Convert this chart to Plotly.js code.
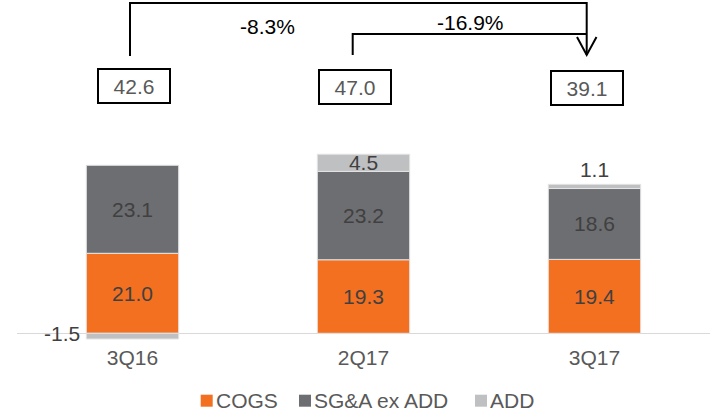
<!DOCTYPE html>
<html>
<head>
<meta charset="utf-8">
<script src="https://cdn.plot.ly/plotly-3.0.1.min.js"></script>
<style>
  html, body { margin: 0; padding: 0; background: #fff; }
  #chart { width: 710px; height: 414px; }
</style>
</head>
<body>
<div id="chart"></div>
<script>
// Quarterly cost breakdown (stacked), with totals and change brackets
const categories = ['3Q16', '2Q17', '3Q17'];
const cogs = [21.0, 19.3, 19.4];
const sgaExAdd = [23.1, 23.2, 18.6];
const add = [-1.5, 4.5, 1.1];
const seriesNames = ['COGS', 'SG&A ex ADD', 'ADD'];
const changeLabels = ['-8.3%', '-16.9%'];   // 3Q16 -> 3Q17, 2Q17 -> 3Q17

const colors = ['#F37021', '#6D6E71', '#BFC0C2'];
const labelColor = '#404040';
const greyText = '#595959';
const FONT = 'Liberation Sans, Arial, sans-serif';
const FS = 21;

// plot-area geometry (pixels)
const W = 710, H = 414;
const ML = 17, MR = 0, MT = 0, MB = 74;
const PW = W - ML - MR, PH = H - MT - MB;
const Y_RANGE = [-1.76, 87.48];
const X_RANGE = [-0.5, 2.5];

// pixel -> axis / paper helpers for the decorations
const xFromPx = px => X_RANGE[0] + (px - ML) / PW * (X_RANGE[1] - X_RANGE[0]);
const yFromPx = py => Y_RANGE[1] - (py - MT) / PH * (Y_RANGE[1] - Y_RANGE[0]);
const pxX = px => (px - ML) / PW;
const pxY = py => (MT + PH - py) / PH;

const totals = categories.map((_, i) => cogs[i] + sgaExAdd[i] + add[i]);
const fmt = v => v.toFixed(1);

const barCommon = {
  type: 'bar',
  x: categories,
  width: 0.4,
  constraintext: 'none',
  cliponaxis: false,
  textfont: { family: FONT, size: FS, color: labelColor },
  insidetextfont: { family: FONT, size: FS, color: labelColor },
  outsidetextfont: { family: FONT, size: FS, color: labelColor },
  insidetextanchor: 'middle',
  hoverinfo: 'x+y+name'
};

const traces = [
  Object.assign({}, barCommon, {
    name: seriesNames[0], y: cogs,
    marker: { color: colors[0], line: { color: '#E4E4E4', width: 1 } },
    text: cogs.map(fmt), textposition: 'inside'
  }),
  Object.assign({}, barCommon, {
    name: seriesNames[1], y: sgaExAdd,
    marker: { color: colors[1], line: { color: '#E4E4E4', width: 1 } },
    text: sgaExAdd.map(fmt), textposition: 'inside'
  }),
  Object.assign({}, barCommon, {
    name: seriesNames[2], y: add,
    marker: { color: colors[2], line: { color: '#E4E4E4', width: 1 } },
    text: add.map(fmt),
    textposition: add.map((v, i) => v < 0 ? 'none' : (i === 1 ? 'inside' : 'outside'))
  })
];

const annotations = [];
const shapes = [];

// negative ADD value, written to the left of its bar
add.forEach((v, i) => {
  if (v < 0) {
    annotations.push({
      x: i - 0.2, y: v / 2 + 0.6, xref: 'x', yref: 'y',
      xanchor: 'right', yanchor: 'middle', xshift: -4,
      text: fmt(v), showarrow: false,
      font: { family: FONT, size: FS, color: labelColor }
    });
  }
});

// boxed totals above each bar
const boxShift = [0.006, -0.035, -0.034];
const boxY = [yFromPx(86), yFromPx(86.5), yFromPx(88)];
totals.forEach((t, i) => {
  annotations.push({
    x: i + boxShift[i], y: boxY[i], xref: 'x', yref: 'y',
    text: fmt(t), showarrow: false,
    width: 70, height: 32, borderpad: 0,
    bordercolor: '#000', borderwidth: 2, bgcolor: '#fff',
    font: { family: FONT, size: FS, color: greyText }
  });
});

// change brackets
const line = { color: '#000', width: 2 };
const xA = xFromPx(130), xB = xFromPx(352.7), xC = xFromPx(586.7);
const yTop = yFromPx(3), yMid = yFromPx(34), yFoot = yFromPx(56);
shapes.push({ type: 'path', xref: 'x', yref: 'y', line,
  path: `M${xA},${yFoot} L${xA},${yTop} L${xC},${yTop} L${xC},${yFromPx(55)}` });
shapes.push({ type: 'path', xref: 'x', yref: 'y', line,
  path: `M${xB},${yFromPx(55)} L${xB},${yMid} L${xC},${yMid}` });
// arrow head
shapes.push({ type: 'path', xref: 'x', yref: 'y', line,
  path: `M${xFromPx(577)},${yFromPx(37)} L${xC},${yFromPx(55)} L${xFromPx(596.5)},${yFromPx(37)}` });

annotations.push({
  x: xFromPx(267), y: yFromPx(26.5), xref: 'x', yref: 'y',
  text: changeLabels[0], showarrow: false,
  font: { family: FONT, size: FS, color: '#000' }
});
annotations.push({
  x: xFromPx(470), y: yFromPx(22.5), xref: 'x', yref: 'y',
  text: changeLabels[1], showarrow: false,
  font: { family: FONT, size: FS, color: '#000' }
});

// legend row: swatch + name
const legendSwatchX = [200.7, 299, 475];
const legendY = 400.7;
seriesNames.forEach((name, i) => {
  const x0 = legendSwatchX[i];
  shapes.push({
    type: 'rect', xref: 'paper', yref: 'paper',
    x0: pxX(x0), x1: pxX(x0 + 12), y0: pxY(legendY + 6), y1: pxY(legendY - 6),
    fillcolor: colors[i], line: { width: 0 }
  });
  annotations.push({
    x: pxX(x0 + 13), y: pxY(legendY), xref: 'paper', yref: 'paper',
    xanchor: 'left', yanchor: 'middle', showarrow: false,
    text: name,
    font: { family: FONT, size: FS, color: greyText }
  });
});

const layout = {
  width: W, height: H,
  margin: { l: ML, r: MR, t: MT, b: MB, pad: 0 },
  paper_bgcolor: '#fff', plot_bgcolor: '#fff',
  barmode: 'relative',
  showlegend: false,
  font: { family: FONT, size: FS, color: greyText },
  xaxis: {
    type: 'category', range: X_RANGE, fixedrange: true,
    showline: false, showgrid: false, zeroline: false, ticks: '',
    ticklabelstandoff: 3,
    tickfont: { family: FONT, size: FS, color: greyText }
  },
  yaxis: {
    range: Y_RANGE, fixedrange: true,
    showgrid: false, showline: false, ticks: '', showticklabels: false,
    zeroline: true, zerolinecolor: '#D9D9D9', zerolinewidth: 1.5
  },
  annotations, shapes
};

Plotly.newPlot('chart', traces, layout, { staticPlot: true, displayModeBar: false });
</script>
</body>
</html>
